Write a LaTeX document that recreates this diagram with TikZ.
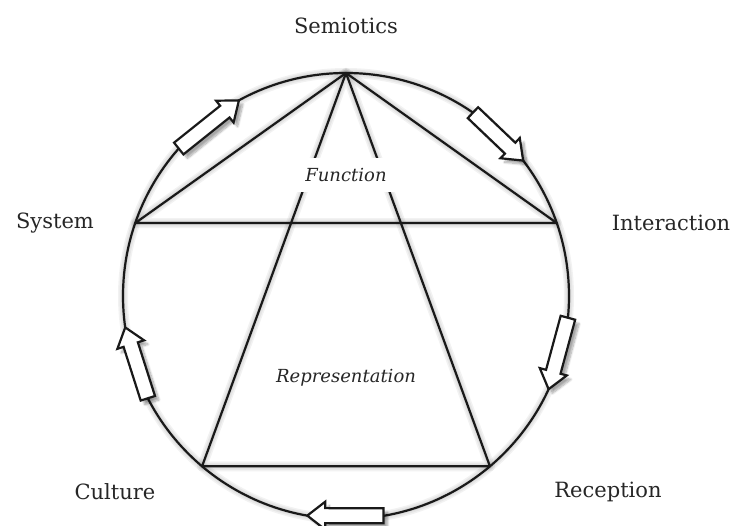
\documentclass[tikz,border=0pt]{standalone}
\usepackage{fontspec}
\setmainfont{DejaVu Serif}
\usetikzlibrary{calc,shadows.blur}
\tikzset{
  ln/.style={line width=2.2pt, line join=round, line cap=round, black!90},
  shd/.style={line width=#1, line join=round, black, opacity=0.05},
  lbl/.style={font=\fontsize{21}{25}\selectfont, text=black!85, inner sep=2pt},
  ilbl/.style={font=\fontsize{18}{22}\selectfont\itshape, text=black!85},
  blk/.style={line width=2.2pt, line join=miter, fill=white, draw=black!90,
    blur shadow={shadow xshift=4pt, shadow yshift=-4pt, shadow blur steps=10, shadow opacity=35}}
}
\newcommand{\blockarrow}[3]{%
  \pgfmathsetmacro\bal{2*223*sin(abs(#2-#1)/2)}%
  \pgfmathsetmacro\bad{(#1+#2)/2 + ((#2>#1) ? 90 : -90)}%
  \pgfmathsetmacro\bab{\bal-18}%
  \path (O) ++(#1:223) coordinate (#3);
  \begin{scope}[shift={(#3)}, rotate=\bad]
    \path[blk] (0,-7.5) -- (\bab,-7.5) -- (\bab,-14) -- (\bal,0) -- (\bab,14) -- (\bab,7.5) -- (0,7.5) -- cycle;
  \end{scope}%
}
\begin{document}
\begin{tikzpicture}[x=1pt,y=1pt]
\useasboundingbox (0,0) rectangle (732,526);
\coordinate (O) at (346,230);
\path (O) ++(90:223) coordinate (A);
\path (O) ++(160.9:223) coordinate (L);
\path (O) ++(19.1:223) coordinate (R);
\path (O) ++(229.8:223) coordinate (BL);
\path (O) ++(-49.8:223) coordinate (BR);
% soft shadows
\begin{scope}[shift={(3,-3)}]
  \foreach \w in {10pt,7pt,4pt}{
    \draw[shd=\w] ($(O)$) circle (223);
    \draw[shd=\w] (A) -- (L) -- (R) -- cycle;
    \draw[shd=\w] (A) -- (BL) -- (BR) -- cycle;
  }
\end{scope}
\draw[ln] (O) circle (223);
\draw[ln] (A) -- (L) -- (R) -- cycle;
\draw[ln] (A) -- (BL) -- (BR) -- cycle;
\node[ilbl, fill=white, inner xsep=10pt, inner ysep=10pt] (fn) at (346,351) {Function};
\node[ilbl] (rep) at (346,148) {Representation};
\node[lbl] (sem) at (346,500) {Semiotics};
\node[lbl] (sys) at (55,303) {System};
\node[lbl] (int) at (671,303) {Interaction};
\node[lbl] (cul) at (115,34) {Culture};
\node[lbl] (rec) at (608,34) {Reception};
\blockarrow{138.6}{118.7}{a1}
\blockarrow{55.3}{37.4}{a2}
\blockarrow{-5.6}{-24.7}{a3}
\blockarrow{279.7}{260}{a5}
\blockarrow{207.3}{188.1}{a4}
\end{tikzpicture}
\end{document}
